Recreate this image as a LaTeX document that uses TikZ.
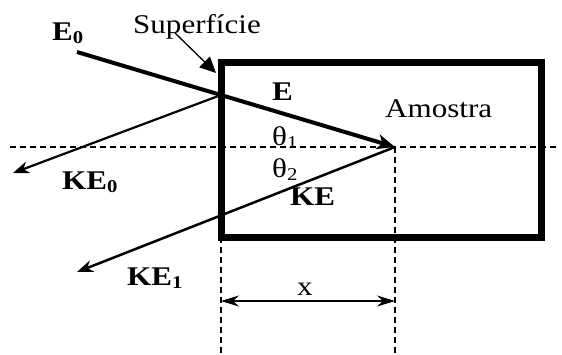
\documentclass[tikz,border=0pt]{standalone}
\usepackage{fontspec}
\setmainfont[FakeStretch=1.15]{Liberation Serif}
\usetikzlibrary{arrows.meta}
\newcommand{\lowidx}[1]{\raisebox{-0.3ex}{\fontsize{18}{18}\selectfont #1}}

\begin{document}
\begin{tikzpicture}[x=1pt, y=-1pt,
	lbl/.style={anchor=base west, inner sep=0pt, font=\fontsize{27}{30}\selectfont},
	boldlbl/.style={lbl, font=\fontsize{27}{30}\selectfont\bfseries},
	beam/.style={line width=4pt, -{Stealth[length=18pt, width=15pt, inset=5pt]}},
	ray/.style={line width=2.5pt, -{Stealth[length=16pt, width=12pt, inset=5pt]}},
	guide/.style={line width=1.5pt, dash pattern=on 6pt off 4pt}]
	\useasboundingbox (0, 0) rectangle (562, 354);
	% Paths, nodes and wires:
	\node[shape=rectangle, draw, line width=7pt, minimum width=320pt, minimum height=175pt, inner sep=0pt, outer sep=0pt](box) at (381, 149.5){};
	\coordinate (src) at (77, 52);
	\coordinate (foc) at (395, 147);
	\coordinate (ent) at (221, 95);
	\coordinate (ke0) at (13, 173);
	\coordinate (ke1) at (77, 272);
	\coordinate (hl) at (10, 147);
	\coordinate (hr) at (558, 147);
	\coordinate (vl) at (221, 354);
	\coordinate (vr) at (395, 354);
	\coordinate (dl) at (221, 301);
	\coordinate (dr) at (395, 301);
	\coordinate (sup) at (175, 33);
	\coordinate (supt) at (216, 73);
	\node[boldlbl](e0) at (52, 40){E\lowidx{0}};
	\node[lbl](surf) at (133, 33){Superfície};
	\node[boldlbl](e) at (272, 100){E};
	\node[lbl](t1) at (272, 145){θ\lowidx{1}};
	\node[lbl](t2) at (272, 177){θ\lowidx{2}};
	\node[boldlbl](kez) at (62, 189){KE\lowidx{0}};
	\node[boldlbl](keo) at (127, 285){KE\lowidx{1}};
	\node[boldlbl](ke) at (290, 205){KE};
	\node[lbl](am) at (385, 117){Amostra};
	\node[lbl, anchor=base](xl) at (305, 295){x};
	\draw[guide] (hl) -- (hr);
	\draw[guide] (box.south west) -- (vl);
	\draw[guide] (foc) -- (vr);
	\draw[beam] (src) -- (foc);
	\draw[ray, line width=2.2pt] (ent) -- (ke0);
	\draw[ray] (foc) -- (ke1);
	\draw[line width=1.2pt, {Stealth[length=18pt, width=11pt, inset=6pt]}-{Stealth[length=18pt, width=11pt, inset=6pt]}] (dl) -- (dr);
	\draw[line width=1.3pt, -{Triangle[length=16pt, width=15pt]}] (sup) -- (supt);
\end{tikzpicture}
\end{document}
